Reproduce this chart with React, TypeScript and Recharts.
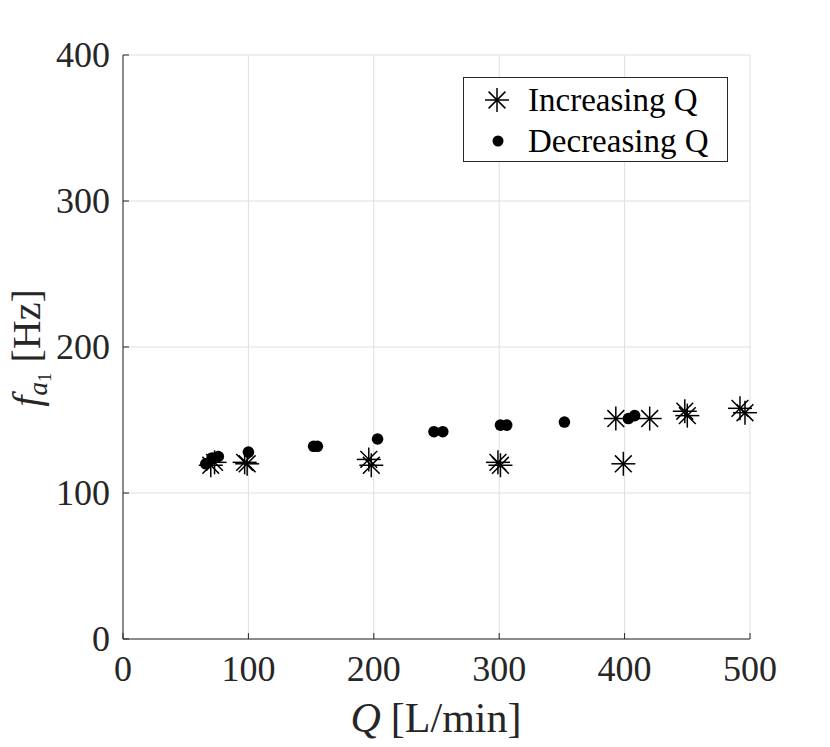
import React from 'react';
import {
  ScatterChart,
  Scatter,
  XAxis,
  YAxis,
  CartesianGrid,
  Legend,
} from 'recharts';

// Increasing Q sweep (asterisks)
const incQ = [70, 73, 97, 99, 196, 198, 299, 301, 399, 393, 420, 448, 450, 492, 496];
const incF = [119, 121, 121, 120, 123, 119, 121, 119, 120, 151, 151, 156, 153, 158, 155];

// Decreasing Q sweep (dots)
const decQ = [66, 71, 76, 100, 152, 155, 203, 248, 255, 301, 306, 352, 403, 408];
const decF = [120, 124, 125, 128, 132, 132, 137, 142, 142, 146.5, 146.5, 148.6, 151, 153];

const xTicks = [0, 100, 200, 300, 400, 500];
const yTicks = [0, 100, 200, 300, 400];

const incData = incQ.map((q, i) => ({ q, f: incF[i] }));
const decData = decQ.map((q, i) => ({ q, f: decF[i] }));

const W = 830;
const H = 747;
const FONT = '"Liberation Serif", "Times New Roman", serif';
const INK = '#262626';
const GRID = '#dfdfdf';
const TICK_LEN = 6;

function Asterisk({ cx, cy, r = 12 }: { cx: number; cy: number; r?: number }) {
  const d = r * 0.7;
  return (
    <g stroke="#000" strokeWidth={1.5}>
      <line x1={cx - r} y1={cy} x2={cx + r} y2={cy} />
      <line x1={cx} y1={cy - r} x2={cx} y2={cy + r} />
      <line x1={cx - d} y1={cy - d} x2={cx + d} y2={cy + d} />
      <line x1={cx - d} y1={cy + d} x2={cx + d} y2={cy - d} />
    </g>
  );
}

const Dot = ({ cx, cy }: any) => <circle cx={cx} cy={cy} r={5.8} fill="#000" />;

const XTick = ({ x, y, payload }: any) => (
  <g>
    <line x1={x} x2={x} y1={y} y2={y - TICK_LEN} stroke={INK} />
    <text x={x} y={y + 42} textAnchor="middle" fontFamily={FONT} fontSize={36} fill={INK}>
      {payload.value}
    </text>
  </g>
);

const YTick = ({ x, y, payload }: any) => (
  <g>
    <line x1={x} x2={x + TICK_LEN} y1={y} y2={y} stroke={INK} />
    <text x={x - 13} y={y + 12} textAnchor="end" fontFamily={FONT} fontSize={36} fill={INK}>
      {payload.value}
    </text>
  </g>
);

function LegendBox() {
  return (
    <svg width={266} height={86} style={{ display: 'block' }}>
      <rect x={0.5} y={0.5} width={264} height={84} fill="#fff" stroke={INK} />
      <Asterisk cx={34} cy={23} r={12} />
      <text x={65} y={34} fontFamily={FONT} fontSize={33} fill="#000">
        Increasing Q
      </text>
      <circle cx={35} cy={64} r={5.5} fill="#000" />
      <text x={65} y={75} fontFamily={FONT} fontSize={33} fill="#000">
        Decreasing Q
      </text>
    </svg>
  );
}

export default function App() {
  return (
    <div style={{ position: 'absolute', left: 0, top: 0, width: W, height: H, background: '#fff' }}>
      <ScatterChart width={W} height={H} margin={{ top: 55, right: 80, bottom: 0, left: 0 }}>
        <CartesianGrid stroke={GRID} strokeWidth={1} />
        <XAxis
          type="number"
          dataKey="q"
          domain={[0, 500]}
          ticks={xTicks}
          height={108}
          tickSize={0}
          tickMargin={0}
          tickLine={false}
          axisLine={{ stroke: INK }}
          tick={<XTick />}
          interval={0}
        />
        <YAxis
          type="number"
          dataKey="f"
          domain={[0, 400]}
          ticks={yTicks}
          width={123}
          tickSize={0}
          tickMargin={0}
          tickLine={false}
          axisLine={{ stroke: INK }}
          tick={<YTick />}
          interval={0}
        />
        <Legend
          layout="vertical"
          align="center"
          verticalAlign="middle"
          wrapperStyle={{ left: 463, top: 77, width: 266, height: 86 }}
          content={() => <LegendBox />}
        />
        <Scatter
          name="Increasing Q"
          data={incData}
          isAnimationActive={false}
          shape={(p: any) => <Asterisk cx={p.cx} cy={p.cy} />}
        />
        <Scatter name="Decreasing Q" data={decData} isAnimationActive={false} shape={<Dot />} />
      </ScatterChart>
      <svg
        width={W}
        height={H}
        style={{ position: 'absolute', left: 0, top: 0, pointerEvents: 'none' }}
      >
        <text x={436} y={732} textAnchor="middle" fontFamily={FONT} fontSize={42} fill={INK}>
          <tspan fontStyle="italic">Q</tspan>
          <tspan dx={10}>[L/min]</tspan>
        </text>
        <text
          x={40}
          y={348}
          textAnchor="middle"
          fontFamily={FONT}
          fontSize={40}
          fill={INK}
          transform="rotate(-90, 40, 348)"
        >
          <tspan fontStyle="italic">f</tspan>
          <tspan fontStyle="italic" fontSize={27} dy={7}>a</tspan>
          <tspan fontSize={19} dy={4}>1</tspan>
          <tspan dy={-11} dx={10}>[Hz]</tspan>
        </text>
      </svg>
    </div>
  );
}
